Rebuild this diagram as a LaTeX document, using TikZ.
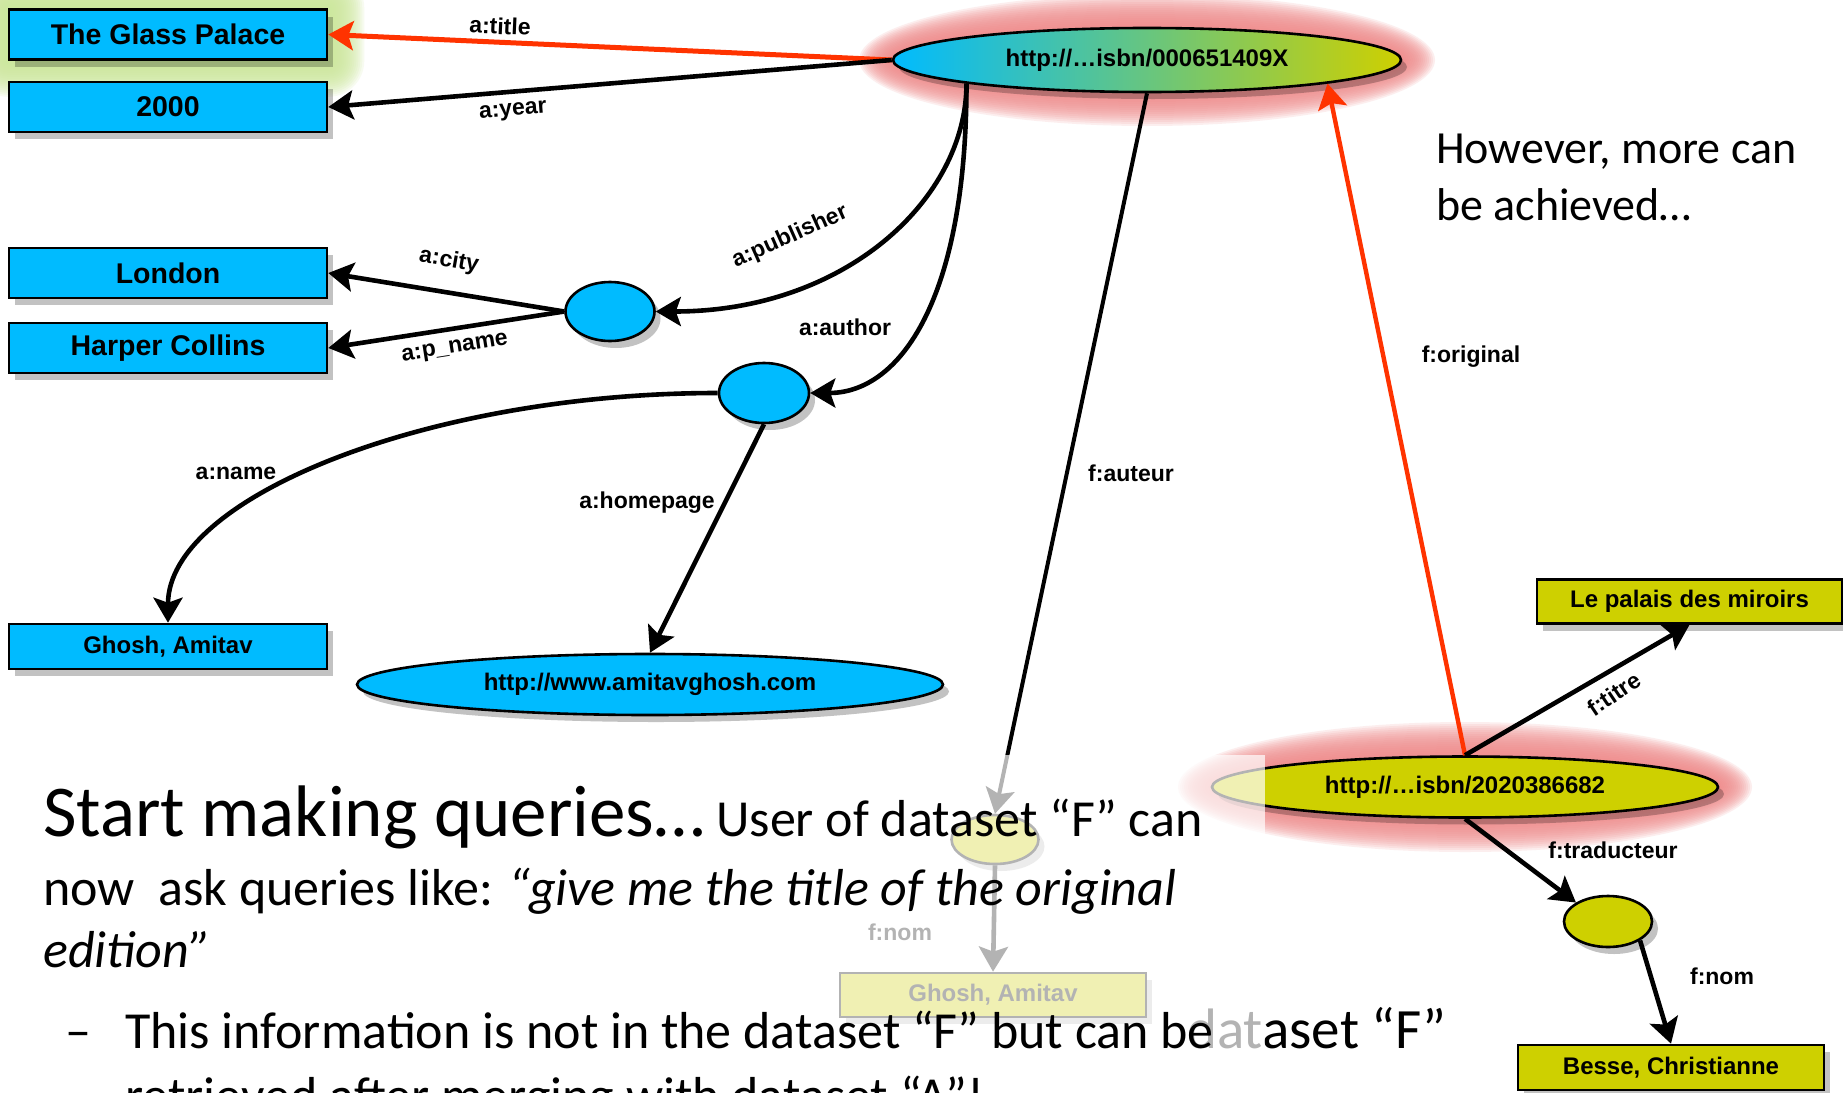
\documentclass[tikz,border=0pt]{standalone}
\usepackage{fontspec}
\setmainfont{Carlito}
\newfontfamily\arl{Liberation Sans}
\usetikzlibrary{arrows.meta,shadows,shapes.geometric,calc}
\definecolor{skyb}{RGB}{0,187,255}
\definecolor{oliv}{RGB}{206,208,0}
\definecolor{redarr}{RGB}{255,51,0}
\definecolor{glowpink}{RGB}{240,140,140}
\definecolor{glowgreen}{RGB}{205,232,155}
\pgfdeclarelayer{bg}
\pgfdeclarelayer{glow}
\pgfsetlayers{bg,glow,main}
\begin{document}
\begin{tikzpicture}[x=1pt,y=-1pt,
  shad/.style={drop shadow={shadow xshift=6pt,shadow yshift=-7pt,fill=black,opacity=0.24}},
  litbox/.style={rectangle,draw=black,line width=2.6pt,fill=skyb,inner sep=0pt,
     minimum width=318pt,minimum height=50pt,font=\arl\bfseries\fontsize{28.5}{32}\selectfont,shad},
  smallbox/.style={litbox,font=\arl\bfseries\fontsize{24}{28}\selectfont},
  uri/.style={ellipse,draw=black,line width=2.6pt,fill=skyb,inner sep=0pt,
     font=\arl\bfseries\fontsize{24}{28}\selectfont,shad},
  blank/.style={ellipse,draw=black,line width=2.6pt,fill=skyb,inner sep=0pt,shad},
  conn/.style={draw=black,line width=4.6pt,-{Stealth[length=25pt,width=29pt,inset=5pt]}},
  rconn/.style={conn,draw=redarr,fill=redarr,line width=5pt},
  lab/.style={inner sep=0pt,font=\arl\bfseries\fontsize{23}{26}\selectfont},
  slide/.style={inner sep=0pt,anchor=base west,font=\fontsize{52}{60}\selectfont}]
\useasboundingbox (0,0) rectangle (1843,1092);
\begin{pgfonlayer}{bg}
\fill[white] (0,0) rectangle (1843,1092);
\end{pgfonlayer}

% literal boxes (left)
\node[litbox] (gp) at (168,34.5) {The Glass Palace};
\node[litbox] (yr) at (168,107) {2000};
\node[litbox] (ld) at (168,273) {London};
\node[litbox] (hc) at (168,348) {Harper Collins};
\node[smallbox,minimum height=45pt] (gh) at (168,646.5) {Ghosh, Amitav};

% resources
\node[uri,shading=axis,left color=skyb,right color=oliv,minimum width=508pt,minimum height=64pt] (bk) at (1147,60) {http://…isbn/000651409X};
\node[blank,minimum width=89pt,minimum height=59pt] (pb) at (610,311.5) {};
\node[blank,minimum width=90pt,minimum height=60pt] (au) at (764,393) {};
\node[uri,minimum width=586pt,minimum height=61pt] (hp) at (650,684.5) {http://www.amitavghosh.com};

\node[uri,fill=oliv,minimum width=506pt,minimum height=61pt] (fr) at (1465,787) {http://…isbn/2020386682};
\node[smallbox,fill=oliv,minimum width=305pt,minimum height=44pt] (lp) at (1689.5,601.5) {Le palais des miroirs};
\node[smallbox,fill=oliv,minimum width=306pt,minimum height=45pt] (bs) at (1671,1067.5) {Besse, Christianne};
\node[blank,fill=oliv,minimum width=88pt,minimum height=51pt] (tr) at (1608,921.5) {};
\node[blank,fill=oliv,minimum width=87pt,minimum height=49pt] (fa) at (995,839.5) {};
\node[smallbox,fill=oliv,minimum width=306pt,minimum height=44pt] (fg) at (993,995) {Ghosh, Amitav};

% glows
\begin{pgfonlayer}{glow}
\foreach \r in {2,4,...,36} {
  \fill[glowpink,opacity=0.14] (bk.center) ellipse [x radius={(252+\r)*1pt}, y radius={(30+\r)*1pt}];
  \fill[glowpink,opacity=0.14] (fr.center) ellipse [x radius={(251+\r)*1pt}, y radius={(29+\r)*1pt}];
  \fill[glowgreen,opacity=0.14,rounded corners={\r*1pt}] ($(gp.north west)+(-\r,-\r)$) rectangle ($(gp.south east)+(\r,\r)$);
}
\end{pgfonlayer}

% edges
\draw[rconn] (bk.west) -- (gp.east);
\draw[conn] (bk.west) -- (yr.east);
\draw[conn] (bk.south west) .. controls +(0,115) and +(190,0) .. (pb.east);
\draw[conn] (bk.south west) .. controls +(0,215) and +(90,0) .. (au.east);
\draw[conn] (pb.west) -- (ld.east);
\draw[conn] (pb.west) -- (hc.east);
\draw[conn] (au.west) .. controls +(-290,0) and +(0,-125) .. (gh.north);
\draw[conn] (au.south) -- (hp.north);
\draw[conn,line width=4pt] (bk.south) -- (fa.north);
\draw[conn] (fa.south) -- (fg.north);
\draw[rconn,line width=4.4pt] (fr.north) -- (bk.south east);
\draw[conn] (fr.north) -- (lp.south);
\draw[conn] (fr.south) -- (tr.north west);
\draw[conn] (tr.south east) -- (bs.north);

% edge labels
\node[lab,rotate=-2.5] (ltitle) at (500,26) {a:title};
\node[lab,rotate=4.5] (lyear) at (513,112) {a:year};
\node[lab,rotate=24] (lpub) at (790,237) {a:publisher};
\node[lab,rotate=-10] (lcity) at (449,261) {a:city};
\node[lab,rotate=9] (lpname) at (455,349) {a:p\_name};
\node[lab] (lauthor) at (845,327) {a:author};
\node[lab] (lname) at (236,473) {a:name};
\node[lab] (lhome) at (647,503) {a:homepage};
\node[lab] (lauteur) at (1131,473) {f:auteur};
\node[lab] (lorig) at (1471,357) {f:original};
\node[lab,rotate=34] (ltitre) at (1614,694) {f:titre};
\node[lab] (ltrad) at (1613,850) {f:traducteur};
\node[lab] (lnom) at (1722,976) {f:nom};
\node[lab] (lnomf) at (900,932) {f:nom};

% text partly hidden under the text box
\node[slide,font=\fontsize{57}{64}\selectfont] (dsF) at (1187,1048) {dataset “F{\char"22}};

% translucent text box
\fill[white,opacity=0.7] (0,755) rectangle (1265,1092);

% slide text
\node[slide] (t1) at (43,836) {{\fontsize{73}{80}\selectfont Start making queries…}\ User of dataset “F” can};
\node[slide] (t2) at (43,905) {now\ \ ask queries like: \textit{“give me the title of the original}};
\node[slide] (t3) at (43,967) {\textit{edition”}};
\node[slide] (dash) at (65,1048) {–};
\node[slide] (t4) at (125,1048) {This information is not in the dataset “F” but can be};
\node[slide] (t5) at (125,1113) {retrieved after merging with dataset “A”!};
\node[slide,font=\fontsize{46}{52}\selectfont] (h1) at (1436,163) {However, more can};
\node[slide,font=\fontsize{46}{52}\selectfont] (h2) at (1436,220) {be achieved…};
\end{tikzpicture}
\end{document}
